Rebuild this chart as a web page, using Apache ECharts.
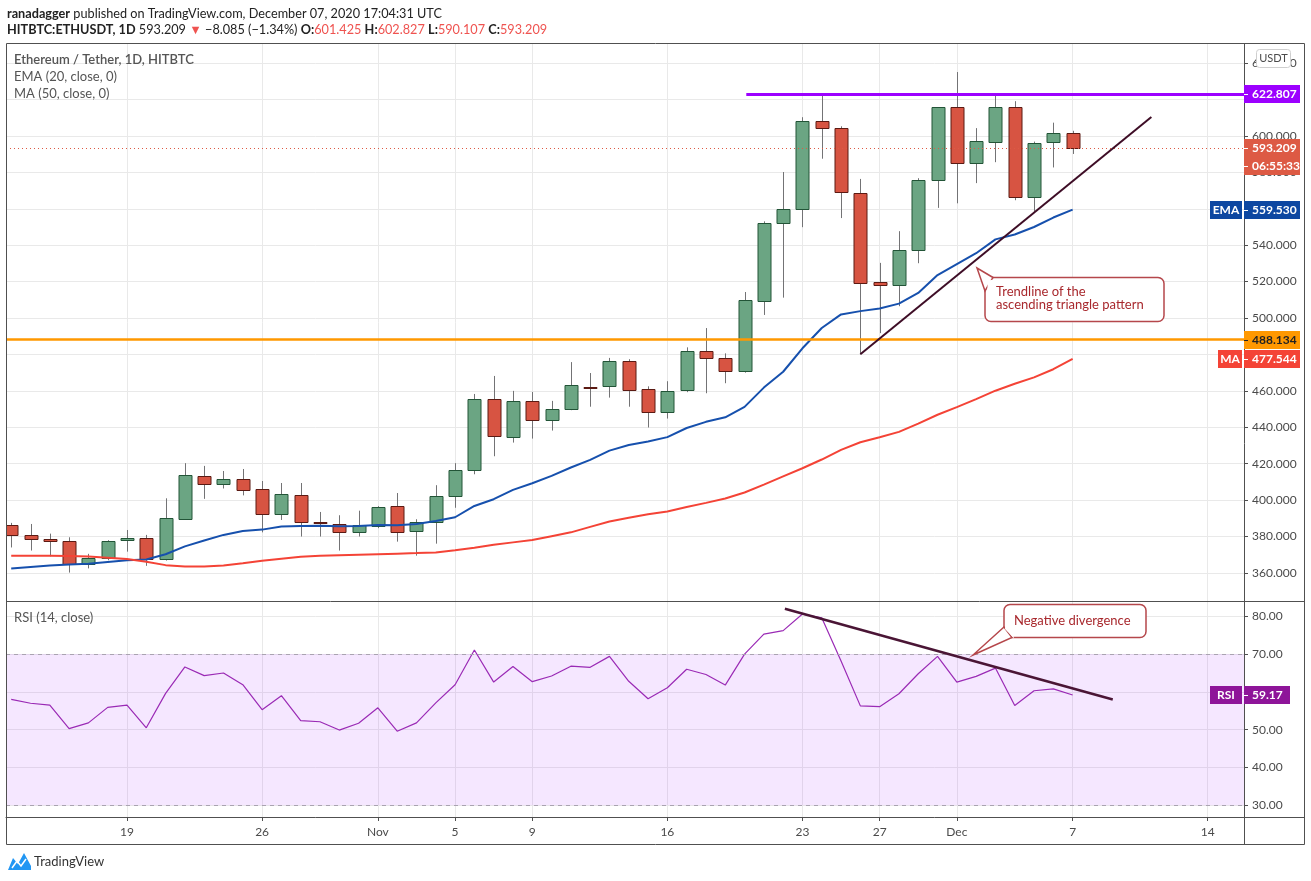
<!DOCTYPE html>
<html>
<head>
<meta charset="utf-8">
<script src="https://cdn.jsdelivr.net/npm/echarts@6/dist/echarts.min.js"></script>
<style>
  html, body { margin: 0; padding: 0; background: #fff; }
  #chart { width: 1311px; height: 881px; }
</style>
</head>
<body>
<div id="chart"></div>
<script>
/* ETH/USDT daily, HITBTC */
const FONT = 'Lato, "Noto Sans", sans-serif';

const dates = [
  'Oct 13', 'Oct 14', 'Oct 15', 'Oct 16', 'Oct 17', 'Oct 18', 'Oct 19', 'Oct 20', 'Oct 21', 'Oct 22',
  'Oct 23', 'Oct 24', 'Oct 25', 'Oct 26', 'Oct 27', 'Oct 28', 'Oct 29', 'Oct 30', 'Oct 31', 'Nov 1',
  'Nov 2', 'Nov 3', 'Nov 4', 'Nov 5', 'Nov 6', 'Nov 7', 'Nov 8', 'Nov 9', 'Nov 10', 'Nov 11',
  'Nov 12', 'Nov 13', 'Nov 14', 'Nov 15', 'Nov 16', 'Nov 17', 'Nov 18', 'Nov 19', 'Nov 20', 'Nov 21',
  'Nov 22', 'Nov 23', 'Nov 24', 'Nov 25', 'Nov 26', 'Nov 27', 'Nov 28', 'Nov 29', 'Nov 30', 'Dec 1',
  'Dec 2', 'Dec 3', 'Dec 4', 'Dec 5', 'Dec 6', 'Dec 7',
];
const opens = [
  386.2, 380.7, 378.6, 377.4, 364.8, 368.1, 377.9, 379.0, 367.5, 389.5,
  413.1, 408.8, 411.4, 406.0, 392.3, 402.7, 388.0, 386.7, 382.3, 385.7,
  396.7, 382.9, 387.9, 402.1, 416.4, 455.4, 434.6, 454.3, 443.9, 450.0,
  462.3, 462.5, 476.2, 460.9, 448.3, 460.4, 481.7, 477.9, 470.7, 509.2,
  552.0, 559.8, 608.1, 604.3, 568.6, 519.7, 518.1, 537.3, 575.7, 615.8,
  585.1, 596.6, 615.8, 566.4, 596.6, 601.425,
];
const closes = [
  380.7, 378.5, 377.4, 364.8, 368.1, 377.4, 379.0, 367.5, 390.0, 413.7,
  408.8, 411.4, 405.5, 392.3, 403.2, 387.9, 387.3, 382.3, 386.2, 396.1,
  382.3, 387.9, 402.1, 416.4, 455.4, 435.1, 454.3, 443.9, 450.0, 463.1,
  461.9, 476.2, 460.4, 448.3, 459.8, 481.7, 477.9, 470.7, 509.8, 552.0,
  559.8, 608.1, 604.3, 569.1, 519.1, 518.1, 537.3, 575.7, 615.8, 585.1,
  597.1, 615.8, 566.4, 596.0, 601.4, 593.209,
];
const lows = [
  374.0, 372.3, 369.1, 360.2, 362.5, 367.0, 371.7, 363.9, 366.8, 389.5,
  400.7, 406.4, 402.6, 382.3, 389.1, 380.0, 380.0, 372.3, 380.0, 384.6,
  377.2, 369.5, 376.1, 395.8, 414.2, 424.1, 431.6, 433.8, 438.2, 449.4,
  451.3, 456.3, 451.3, 439.9, 444.8, 459.3, 458.7, 464.2, 470.0, 501.7,
  511.2, 549.9, 587.5, 554.9, 480.1, 491.7, 506.5, 530.1, 560.5, 563.0,
  574.1, 585.6, 564.7, 558.5, 582.7, 590.107,
];
const highs = [
  387.5, 386.9, 381.6, 379.6, 370.5, 378.0, 383.6, 380.9, 401.0, 420.3,
  418.8, 416.0, 417.1, 410.5, 409.4, 409.4, 393.5, 391.7, 394.2, 396.7,
  403.9, 389.5, 408.2, 420.3, 458.3, 468.2, 460.0, 459.4, 454.5, 475.8,
  469.8, 478.1, 477.4, 462.5, 465.3, 483.9, 494.5, 480.6, 514.3, 553.1,
  580.2, 610.3, 622.9, 605.3, 576.4, 530.3, 547.7, 576.8, 615.8, 635.1,
  604.3, 622.9, 619.1, 596.9, 607.3, 602.827,
];
const ema20 = [
  362.4, 363.3, 364.1, 364.6, 365.0, 366.0, 367.0, 367.4, 370.3, 374.6,
  377.8, 380.9, 383.1, 383.8, 385.5, 385.8, 385.9, 385.7, 385.8, 386.4,
  386.2, 386.9, 388.5, 390.6, 396.8, 400.5, 405.6, 409.3, 413.3, 417.9,
  422.1, 427.2, 430.3, 432.2, 434.6, 439.6, 443.0, 445.5, 451.2, 461.8,
  470.5, 483.4, 494.5, 502.0, 503.8, 505.2, 507.9, 513.8, 523.6, 529.6,
  535.6, 543.2, 545.9, 550.0, 555.2, 559.53,
];
const ma50 = [
  369.5, 369.5, 369.4, 369.3, 369.0, 368.4, 367.7, 366.2, 364.3, 363.6,
  363.6, 364.1, 365.3, 366.7, 367.8, 368.9, 369.4, 369.7, 370.0, 370.3,
  370.6, 370.9, 371.3, 372.5, 373.9, 375.5, 376.8, 378.1, 380.2, 382.3,
  385.3, 388.3, 390.3, 392.2, 393.7, 396.2, 398.5, 400.9, 404.2, 408.5,
  413.0, 417.5, 422.3, 427.6, 431.8, 434.5, 437.5, 442.0, 446.9, 451.1,
  455.5, 460.1, 463.9, 467.4, 471.9, 477.544,
];
const rsi14 = [
  58.0, 57.0, 56.5, 50.3, 51.8, 55.9, 56.5, 50.5, 59.6, 66.6,
  64.3, 65.0, 61.9, 55.3, 59.0, 52.4, 52.1, 49.9, 51.7, 55.8,
  49.6, 51.8, 57.1, 61.9, 71.1, 62.6, 66.7, 62.7, 64.2, 66.8,
  66.5, 69.4, 62.8, 58.2, 61.1, 66.0, 64.6, 61.8, 70.0, 75.3,
  76.2, 80.6, 79.6, 68.2, 56.3, 56.1, 59.5, 64.8, 69.4, 62.6,
  64.1, 66.3, 56.4, 60.3, 60.8, 59.17,
];

// x ticks (index into the day axis, Oct 13 = 0) and their labels
const tickIdx = [6, 13, 19, 23, 27, 34, 41, 45, 49, 55, 62];
const tickLabels = ['19', '26', 'Nov', '5', '9', '16', '23', '27', 'Dec', '7', '14'];
const priceTicks = [360, 380, 400, 420, 440, 460, 480, 500, 520, 540, 560, 580, 600, 620, 640];
const rsiTicks = [30, 40, 50, 60, 70, 80];

// drawings
const resistance = 622.807;
const resistanceFrom = 38.09;
const support = 488.134;
const lastPrice = 593.209;
const trendline = [[44, 480.1], [59.08, 610.4]];
const rsiDivergence = [[40.09, 82.0], [57.08, 58.0]];

const X_MIN = -0.27, X_MAX = 63.88;
const C = {
  upFill: '#6ba583', upLine: '#225437', dnFill: '#d75442', dnLine: '#5b1a13', wick: '#737375',
  ema: '#1650ad', ma: '#f44336', rsi: '#9a2ab5', purple: '#9c00ff', orange: '#ff9800',
  price: '#dd5a44', grid: '#e9e9e9', frame: '#505050', text: '#4a4a4a', note: '#a8282d',
};

const chart = echarts.init(document.getElementById('chart'));

const xBase = (grid, labels) => ({
  gridIndex: grid, type: 'value', min: X_MIN, max: X_MAX,
  axisLine: { show: labels, onZero: false, lineStyle: { color: C.frame } },
  axisTick: { show: labels, customValues: tickIdx, length: 4, lineStyle: { color: C.frame } },
  axisLabel: {
    show: labels, customValues: tickIdx, margin: 9, color: C.text, fontFamily: FONT, fontSize: 12,
    formatter: (v) => tickLabels[tickIdx.indexOf(Math.round(v))] || '',
  },
  splitLine: { show: true, lineStyle: { color: C.grid } },
});

const yBase = (grid, min, max, ticks, digits) => ({
  gridIndex: grid, type: 'value', position: 'right', min, max, scale: true,
  axisLine: { show: false, onZero: false },
  axisTick: { show: true, customValues: ticks, length: 4, lineStyle: { color: C.frame } },
  axisLabel: {
    customValues: ticks, margin: 8, color: C.text, fontFamily: FONT, fontSize: 12,
    formatter: (v) => v.toFixed(digits),
  },
  splitLine: { show: true, lineStyle: { color: C.grid } },
});

const candleData = dates.map((d, i) => [i, opens[i], closes[i], lows[i], highs[i]]);

function renderCandle(params, api) {
  const i = api.value(0);
  const o = api.value(1), c = api.value(2);
  const pO = api.coord([i, o]), pC = api.coord([i, c]);
  const yL = api.coord([i, api.value(3)])[1], yH = api.coord([i, api.value(4)])[1];
  const x = Math.round(pO[0]) + 0.5;
  const up = c >= o;
  const top = Math.round(Math.min(pO[1], pC[1])) + 0.5;
  const h = Math.max(Math.round(Math.abs(pO[1] - pC[1])), 1);
  return {
    type: 'group',
    children: [
      { type: 'line', shape: { x1: x, y1: yH, x2: x, y2: yL }, style: { stroke: C.wick, lineWidth: 1 } },
      {
        type: 'rect', shape: { x: x - 6.5, y: top, width: 13, height: h },
        style: { fill: up ? C.upFill : C.dnFill, stroke: up ? C.upLine : C.dnLine, lineWidth: 1 },
      },
    ],
  };
}

const noSym = { symbol: ['none', 'none'], silent: true, animation: false, label: { show: false } };

chart.setOption({
  animation: false,
  backgroundColor: '#fff',
  textStyle: { fontFamily: FONT },
  grid: [
    { left: 6, right: 67, top: 44, bottom: 280 },
    { left: 6, right: 67, top: 601, bottom: 64 },
  ],
  xAxis: [xBase(0, false), xBase(1, true)],
  yAxis: [
    yBase(0, 344.6, 650.5, priceTicks, 3),
    yBase(1, 26.9, 84.05, rsiTicks, 2),
  ],
  series: [
    {
      name: 'ETHUSDT', type: 'custom', xAxisIndex: 0, yAxisIndex: 0, clip: true, z: 3,
      renderItem: renderCandle, encode: { x: 0, y: [1, 2, 3, 4] }, data: candleData,
    },
    {
      name: 'EMA 20', type: 'line', xAxisIndex: 0, yAxisIndex: 0, z: 4,
      data: ema20.map((v, i) => [i, v]), showSymbol: false, lineStyle: { color: C.ema, width: 2 },
    },
    {
      name: 'MA 50', type: 'line', xAxisIndex: 0, yAxisIndex: 0, z: 4,
      data: ma50.map((v, i) => [i, v]), showSymbol: false, lineStyle: { color: C.ma, width: 2 },
      markLine: Object.assign({}, noSym, {
        data: [
          { yAxis: support, lineStyle: { color: C.orange, width: 2.5, type: 'solid' } },
          { yAxis: lastPrice, lineStyle: { color: C.price, width: 1, type: [1, 3] } },
          [
            { coord: [resistanceFrom, resistance], lineStyle: { color: C.purple, width: 3, type: 'solid' } },
            { coord: [X_MAX, resistance] },
          ],
          [
            { coord: trendline[0], lineStyle: { color: '#3e0d26', width: 2, type: 'solid' } },
            { coord: trendline[1] },
          ],
        ],
      }),
    },
    {
      name: 'RSI 14', type: 'line', xAxisIndex: 1, yAxisIndex: 1, z: 4,
      data: rsi14.map((v, i) => [i, v]), showSymbol: false, lineStyle: { color: C.rsi, width: 1.2 },
      markArea: { silent: true, itemStyle: { color: 'rgba(153,21,255,0.1)' }, data: [[{ yAxis: 30 }, { yAxis: 70 }]] },
      markLine: Object.assign({}, noSym, {
        data: [
          { yAxis: 70, lineStyle: { color: '#a9a3b0', width: 1, type: [4, 4] } },
          { yAxis: 30, lineStyle: { color: '#a9a3b0', width: 1, type: [4, 4] } },
          [
            { coord: rsiDivergence[0], lineStyle: { color: '#4a1535', width: 2.5, type: 'solid' } },
            { coord: rsiDivergence[1] },
          ],
        ],
      }),
    },
  ],
});

/* ---------- overlay: header, frame, axis badges, callouts ---------- */
const yP = (v) => chart.convertToPixel({ yAxisIndex: 0 }, v);
const yR = (v) => chart.convertToPixel({ yAxisIndex: 1 }, v);
const AX = 1244;

function badge(cy, text, fill, color, name, w) {
  const out = [
    { type: 'rect', shape: { x: AX, y: Math.round(cy) - 9, width: w || 56, height: 18 }, style: { fill } },
    { type: 'line', shape: { x1: AX, y1: Math.round(cy) + 0.5, x2: AX + 4, y2: Math.round(cy) + 0.5 }, style: { stroke: color, lineWidth: 1 } },
    {
      type: 'text', x: AX + 8, y: Math.round(cy),
      style: { text, fill: color, font: 'bold 12px ' + FONT, verticalAlign: 'middle' },
    },
  ];
  if (name) {
    const nw = name.length * 8 + 8;
    out.push(
      { type: 'rect', shape: { x: AX - 2 - nw, y: Math.round(cy) - 9, width: nw, height: 18 }, style: { fill } },
      {
        type: 'text', x: AX - 2 - nw / 2, y: Math.round(cy),
        style: { text: name, fill: color, font: 'bold 12px ' + FONT, align: 'center', verticalAlign: 'middle' },
      }
    );
  }
  return out;
}

function callout(box, tip, baseA, baseB, lines, textX, textY) {
  const [x0, y0, x1, y1] = box, r = 6;
  return [
    {
      type: 'rect', shape: { x: x0, y: y0, width: x1 - x0, height: y1 - y0, r },
      style: { fill: '#fff', stroke: '#b5474b', lineWidth: 1.5 },
    },
    { type: 'polygon', shape: { points: [baseA, tip, baseB] }, style: { fill: '#fff', stroke: '#b5474b', lineWidth: 1.5 } },
    { type: 'polygon', shape: { points: [[baseA[0] + 1, baseA[1] + 2], [baseB[0] + 2, baseB[1] + 1], [x0 + 3, y0 + 3]] }, style: { fill: '#fff' } },
    {
      type: 'text', x: textX, y: textY,
      style: { text: lines.join('\n'), fill: C.note, font: '13px ' + FONT, lineHeight: 13, verticalAlign: 'middle' },
    },
  ];
}

const HF = '12.7px ' + FONT, HB = 'bold 12.7px ' + FONT;
const header = [
  {
    type: 'text', x: 7, y: 14,
    style: {
      text: '{b|ranadagger} published on TradingView.com, December 07, 2020 17:04:31 UTC',
      fill: '#222', font: HF, verticalAlign: 'middle',
      rich: { b: { fill: '#222', font: HB } },
    },
  },
  {
    type: 'text', x: 7, y: 30,
    style: {
      text: '{b|HITBTC:ETHUSDT, 1D} 593.209 {r|▼} −8.085 (−1.34%) {b|O:}{r|601.425} {b|H:}{r|602.827} {b|L:}{r|590.107} {b|C:}{r|593.209}',
      fill: '#222', font: HF, verticalAlign: 'middle',
      rich: {
        b: { font: HB, fill: '#222' },
        r: { font: HF, fill: '#ef5350' },
      },
    },
  },
  { type: 'text', x: 14, y: 60, style: { text: 'Ethereum / Tether, 1D, HITBTC', fill: '#555', font: '600 13px ' + FONT, verticalAlign: 'middle' } },
  { type: 'text', x: 14, y: 77, style: { text: 'EMA (20, close, 0)', fill: '#555', font: '13px ' + FONT, verticalAlign: 'middle' } },
  { type: 'text', x: 14, y: 94, style: { text: 'MA (50, close, 0)', fill: '#555', font: '13px ' + FONT, verticalAlign: 'middle' } },
  { type: 'text', x: 14, y: 618, style: { text: 'RSI (14, close)', fill: '#555', font: '13px ' + FONT, verticalAlign: 'middle' } },
];

const frame = [
  { type: 'rect', shape: { x: 6.5, y: 43.5, width: 1298, height: 801 }, style: { fill: 'none', stroke: C.frame, lineWidth: 1 } },
  { type: 'line', shape: { x1: 6, y1: 601.5, x2: 1304, y2: 601.5 }, style: { stroke: C.frame, lineWidth: 1 } },
  { type: 'line', shape: { x1: AX + 0.5, y1: 43, x2: AX + 0.5, y2: 844 }, style: { stroke: C.frame, lineWidth: 1 } },
  { type: 'line', shape: { x1: AX, y1: 817.5, x2: 1304, y2: 817.5 }, style: { stroke: C.frame, lineWidth: 1 } },
];

const usdt = [
  { type: 'rect', shape: { x: 1256.5, y: 49.5, width: 34, height: 18, r: 3 }, style: { fill: '#fff', stroke: '#cfcfcf', lineWidth: 1 } },
  { type: 'text', x: 1273.5, y: 58.5, style: { text: 'USDT', fill: C.text, font: '11px ' + FONT, align: 'center', verticalAlign: 'middle' } },
];

const cp = yP(lastPrice);
const badges = [].concat(
  badge(yP(resistance), resistance.toFixed(3), C.purple, '#fff'),
  badge(cp, lastPrice.toFixed(3), C.price, '#fff'),
  badge(cp + 18, '06:55:33', C.price, '#fff'),
  badge(yP(ema20[ema20.length - 1]), ema20[ema20.length - 1].toFixed(3), '#0d47a1', '#fff', 'EMA'),
  badge(yP(support), support.toFixed(3), C.orange, '#222'),
  badge(yP(ma50[ma50.length - 1]), ma50[ma50.length - 1].toFixed(3), '#f44336', '#fff', 'MA'),
  badge(yR(rsi14[rsi14.length - 1]), rsi14[rsi14.length - 1].toFixed(2), '#8e1599', '#fff', 'RSI', 46)
);

const notes = [].concat(
  callout([985, 277.5, 1164, 321.5], [977, 268], [993, 277.5], [985, 291], ['Trendline of the', 'ascending triangle pattern'], 996, 298.5),
  callout([1004, 604.5, 1146, 637.5], [973, 655], [1004, 627], [1012, 637.5], ['Negative divergence'], 1014, 620.5)
);

const logo = [
  {
    type: 'polygon', shape: { points: [[8, 870], [13, 858], [18, 864], [24, 853], [31, 866], [31, 870]] },
    style: { fill: '#2196f3' },
  },
  { type: 'polyline', shape: { points: [[12, 868], [17, 861], [21, 866], [26, 859]] }, style: { stroke: '#fff', lineWidth: 1.5 } },
  { type: 'text', x: 34, y: 862, style: { text: 'TradingView', fill: '#333', font: '13px ' + FONT, verticalAlign: 'middle' } },
];

chart.setOption({
  graphic: [].concat(header, frame, usdt, notes, badges, logo).map((g) => Object.assign({ z: 100, silent: true }, g)),
});
</script>
</body>
</html>
